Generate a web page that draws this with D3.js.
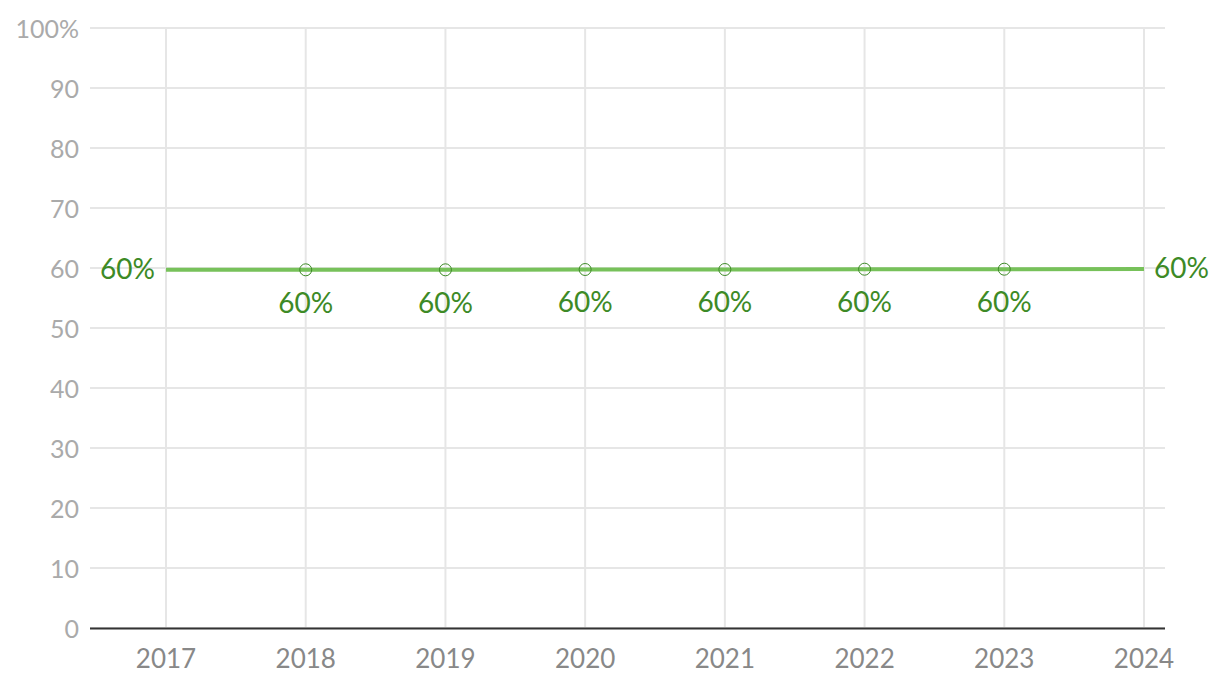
<!DOCTYPE html>
<html>
<head>
<meta charset="utf-8">
<script src="https://cdn.jsdelivr.net/npm/d3@7"></script>
<style>
  body { margin: 0; background: #fff; }
  svg { font-family: "Source Sans Pro", Lato, "Noto Sans", sans-serif; }
</style>
</head>
<body>
<svg id="chart" width="1220" height="692"></svg>
<script>
var years = [2017, 2018, 2019, 2020, 2021, 2022, 2023, 2024];
var values = [59.7, 59.7, 59.7, 59.75, 59.75, 59.8, 59.8, 59.85];
var labels = ["60%", "60%", "60%", "60%", "60%", "60%", "60%", "60%"];
var yTicks = [0, 10, 20, 30, 40, 50, 60, 70, 80, 90, 100];

var svg = d3.select("#chart");
var plotLeft = 90, plotRight = 1165, plotTop = 28, plotBottom = 628;

var x = d3.scaleLinear()
    .domain([2017, 2024])
    .range([166, 1144]);

var y = d3.scaleLinear()
    .domain([0, 100])
    .range([plotBottom, plotTop]);

// horizontal grid
svg.append("g").selectAll("line").data(yTicks).enter().append("line")
    .attr("x1", plotLeft).attr("x2", plotRight)
    .attr("y1", function(d){ return y(d); })
    .attr("y2", function(d){ return y(d); })
    .attr("stroke", "#e6e6e6")
    .attr("stroke-width", 2);

// vertical grid
svg.append("g").selectAll("line").data(years).enter().append("line")
    .attr("x1", function(d){ return x(d); })
    .attr("x2", function(d){ return x(d); })
    .attr("y1", plotTop).attr("y2", plotBottom)
    .attr("stroke", "#e6e6e6")
    .attr("stroke-width", 2);

// y tick labels
svg.append("g").selectAll("text").data(yTicks).enter().append("text")
    .attr("x", 79)
    .attr("y", function(d){ return y(d) + 1; })
    .attr("dy", "0.35em")
    .attr("text-anchor", "end")
    .attr("fill", "#aaaaaa")
    .style("font-size", "25px")
    .text(function(d){ return d == 100 ? "100%" : d; });

// x axis line
svg.append("line")
    .attr("x1", plotLeft).attr("x2", plotRight)
    .attr("y1", plotBottom + 0.5).attr("y2", plotBottom + 0.5)
    .attr("stroke", "#333")
    .attr("stroke-width", 2);

// x tick labels
svg.append("g").selectAll("text").data(years).enter().append("text")
    .attr("x", function(d){ return x(d); })
    .attr("y", 668)
    .attr("text-anchor", "middle")
    .attr("fill", "#888888")
    .style("font-size", "26px")
    .text(function(d){ return d; });

// line
var line = d3.line()
    .x(function(d, i){ return x(years[i]); })
    .y(function(d){ return y(d); });

svg.append("path")
    .datum(values)
    .attr("d", line)
    .attr("fill", "none")
    .attr("stroke", "#77c15a")
    .attr("stroke-width", 4);

// markers (not on end points)
var inner = d3.range(1, years.length - 1);
svg.append("g").selectAll("circle").data(inner).enter().append("circle")
    .attr("cx", function(i){ return x(years[i]); })
    .attr("cy", function(i){ return y(values[i]); })
    .attr("r", 6)
    .attr("fill", "none")
    .attr("stroke", "#3d8a26")
    .attr("stroke-width", 1);

// value labels
svg.append("g").selectAll("text").data(d3.range(years.length)).enter().append("text")
    .attr("x", function(i){
        if (i == 0) return x(years[i]) - 11;
        if (i == years.length - 1) return x(years[i]) + 10;
        return x(years[i]);
    })
    .attr("y", function(i){
        if (i == 0 || i == years.length - 1) return y(values[i]) - 1;
        return y(values[i]) + 33;
    })
    .attr("dy", "0.35em")
    .attr("text-anchor", function(i){
        if (i == 0) return "end";
        if (i == years.length - 1) return "start";
        return "middle";
    })
    .attr("fill", "#3d8a26")
    .style("font-size", "28px")
    .text(function(i){ return labels[i]; });
</script>
</body>
</html>
